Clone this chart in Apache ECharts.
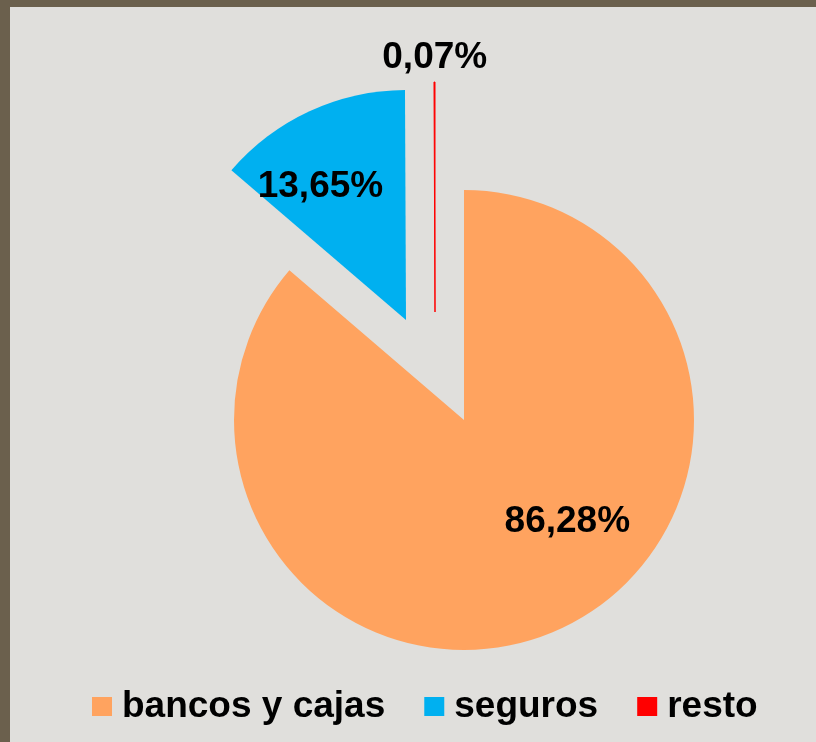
<!DOCTYPE html>
<html>
<head>
<meta charset="utf-8">
<script src="https://cdn.jsdelivr.net/npm/echarts@6/dist/echarts.min.js"></script>
<style>
  html, body { margin: 0; padding: 0; }
  #chart { width: 816px; height: 742px; }
</style>
</head>
<body>
<div id="chart"></div>
<script>
// datos del grafico
var categorias = ['bancos y cajas', 'seguros', 'resto'];
var porcentajes = [86.28, 13.65, 0.07];
var colores = ['#ffa35f', '#00b0f0', '#ff0000'];

// cada porcion va en su propia serie para separarla (explotada) como en el original
var centros = [[464, 420], [406, 320], [435, 312]];
var desplazLabel = [[54, -5], [-36, -26], [0, -136]];

function datosSerie(k) {
    var d = [];
    for (var i = 0; i < categorias.length; i++) {
        if (i == k) {
            d.push({
                name: categorias[i],
                value: porcentajes[i],
                itemStyle: { color: colores[i], borderColor: colores[i], borderWidth: k == 2 ? 1 : 0 },
                label: {
                    show: true,
                    position: 'inside',
                    offset: desplazLabel[k],
                    formatter: function (p) { return p.value.toFixed(2).replace('.', ',') + '%'; }
                }
            });
        } else {
            d.push({
                name: categorias[i],
                value: porcentajes[i],
                itemStyle: { color: 'rgba(0,0,0,0)', borderWidth: 0 },
                label: { show: false },
                labelLine: { show: false }
            });
        }
    }
    return d;
}

var series = [];
for (var k = 0; k < categorias.length; k++) {
    series.push({
        type: 'pie',
        center: centros[k],
        radius: 230,
        startAngle: 90,
        clockwise: true,
        avoidLabelOverlap: false,
        silent: true,
        emphasis: { disabled: true },
        label: {
            color: '#000',
            fontFamily: 'Liberation Sans, Arial, sans-serif',
            fontWeight: 'bold',
            fontSize: 37
        },
        labelLine: { show: false },
        data: datosSerie(k)
    });
}

var legendData = [];
for (var i = 0; i < categorias.length; i++) {
    legendData.push({ name: categorias[i], itemStyle: { color: colores[i], opacity: 1 } });
}

var option = {
    animation: false,
    backgroundColor: '#6b604d',
    graphic: [{
        type: 'rect',
        left: 10,
        top: 7,
        z: -10,
        shape: { width: 806, height: 735 },
        style: { fill: '#e0dfdc' }
    }],
    legend: {
        left: 87,
        top: 683,
        icon: 'rect',
        itemWidth: 20,
        itemHeight: 19,
        itemGap: 39,
        selectedMode: false,
        textStyle: {
            color: '#000',
            fontFamily: 'Liberation Sans, Arial, sans-serif',
            fontWeight: 'bold',
            fontSize: 37,
            padding: [0, 0, 0, 5]
        },
        data: legendData
    },
    series: series
};

echarts.init(document.getElementById('chart')).setOption(option);
</script>
</body>
</html>
